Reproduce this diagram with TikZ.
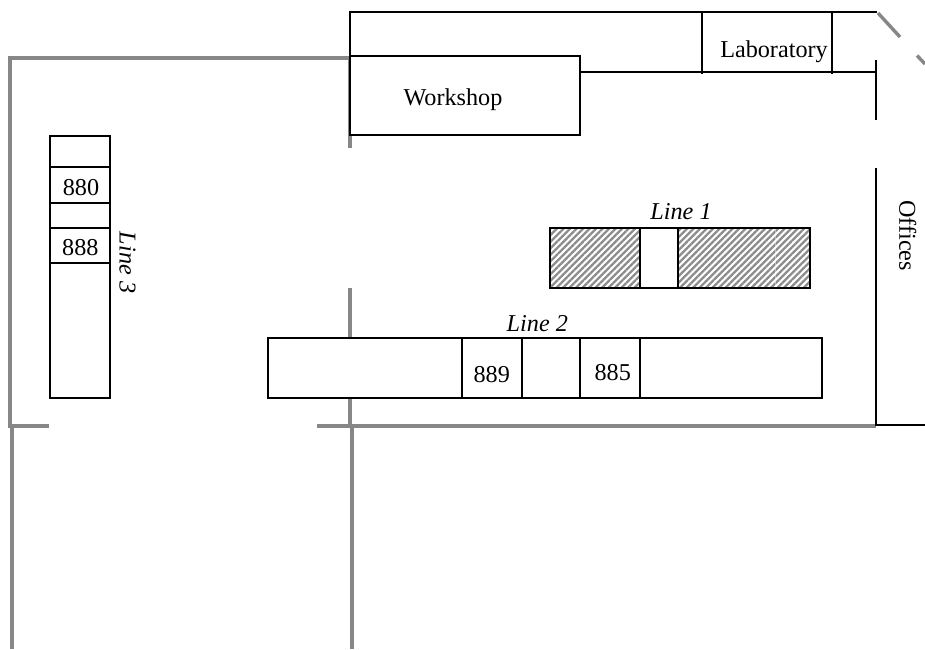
\documentclass[tikz,border=0pt]{standalone}
\usepackage{fontspec}
\setmainfont{Liberation Serif}
\usetikzlibrary{patterns.meta}

\begin{document}
\begin{tikzpicture}[x=1pt,y=-1pt,font=\fontsize{24.2}{28}\selectfont,
wall/.style={draw=black!47, line width=4pt},
thinwall/.style={draw=black!47, line width=3.4pt},
room/.style={draw=black, line width=2pt},
box/.style={draw=black, line width=2pt, fill=white},
hatched/.style={box, pattern={Lines[angle=45,distance=4.6pt,line width=2.3pt]}, pattern color=black!45},
label/.style={anchor=base, inner sep=0pt},
linelabel/.style={label, font=\fontsize{24.2}{28}\selectfont\itshape}]
\useasboundingbox (0,0) rectangle (925,649);
% walls
\draw[wall] (350,148) -- (350,58) -- (10,58) -- (10,426) -- (49,426);
\draw[wall] (317,426) -- (876,426);
\draw[wall] (350,288) -- (350,426);
\draw[thinwall] (12,426) -- (12,649);
\draw[thinwall] (352,426) -- (352,649);
\draw[thinwall] (878,13) -- (900,37);
\draw[thinwall] (917,55.5) -- (925,64);
% rooms
\draw[room] (350,56) -- (350,12) -- (877,12);
\draw[room] (580,72) -- (876,72);
\draw[room] (702,13) -- (702,74);
\draw[room] (832,13) -- (832,74);
\draw[room] (876,60) -- (876,120);
\draw[room] (876,168) -- (876,425) -- (925,425);
\draw[box] (350,56) rectangle (580,135);
% line 1
\draw[hatched] (550,228) rectangle (810,288);
\draw[white, opacity=0.4, line width=0.4pt] (775,229) -- (775,287);
\draw[box] (640,228) rectangle (678,288);
% line 2
\draw[box] (268,338) rectangle (822,398);
\foreach \x in {462,522,580,640}
  \draw[room] (\x,338) -- (\x,398);
% line 3
\draw[box] (50,136) rectangle (110,398);
\foreach \y in {167,203,228,263}
  \draw[room] (50,\y) -- (110,\y);
% labels
\node[label] (workshop) at (453,105) {Workshop};
\node[label] (laboratory) at (774,57.3) {Laboratory};
\node[label, rotate=-90] (offices) at (899.3,235.7) {Offices};
\node[linelabel] (line1) at (681,219.3) {Line 1};
\node[linelabel] (line2) at (537.3,331) {Line 2};
\node[linelabel, rotate=-90] (line3) at (119.5,262.5) {Line 3};
\node[label] (m880) at (81,195.7) {880};
\node[label] (m888) at (80.3,255) {888};
\node[label] (m889) at (491.7,382.7) {889};
\node[label] (m885) at (612.7,380.3) {885};
\end{tikzpicture}
\end{document}
